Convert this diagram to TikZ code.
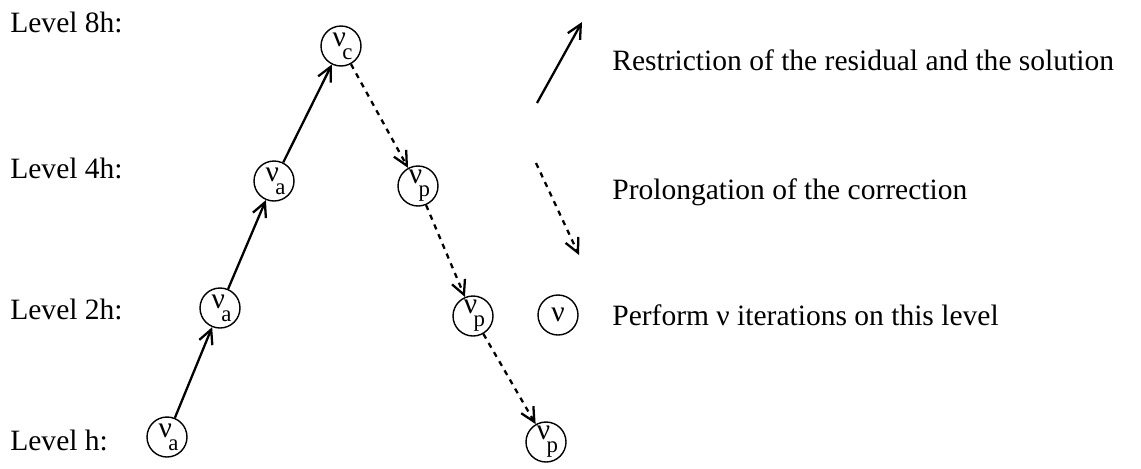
\documentclass[tikz,border=0pt]{standalone}
\usepackage{fontspec}
\setmainfont{Liberation Serif}
\usetikzlibrary{arrows.meta}
\begin{document}
\begin{tikzpicture}[x=0.02cm,y=-0.02cm,
  every node/.style={font=\fontsize{16.8}{20}\selectfont},
  lvl/.style={circle,draw,line width=0.8pt,inner sep=0pt,minimum size=0.8cm},
  txt/.style={anchor=base west,inner sep=0pt},
  restr/.style={line width=1.3pt,-{Straight Barb[length=8pt,width=8pt,line width=1.3pt]}},
  prol/.style={line width=1.3pt,dash pattern=on 3pt off 3pt,-{Straight Barb[length=8pt,width=8pt,line width=1.3pt]}}]
\useasboundingbox (0,0) rectangle (1141,468);
\newcommand{\nusub}[1]{\hspace{0.1em}ν\hspace{-0.12em}\raisebox{-0.45em}{\fontsize{13}{13}\selectfont #1}}
% level labels
\node[txt] (l8) at (10,32) {Level 8h:};
\node[txt] (l4) at (10,178) {Level 4h:};
\node[txt] (l2) at (10,319) {Level 2h:};
\node[txt] (l1) at (10,450) {Level h:};
% nodes
\node[lvl] (a1) at (167,437) {\nusub{a}};
\node[lvl] (a2) at (220,308) {\nusub{a}};
\node[lvl] (a4) at (274,181) {\nusub{a}};
\node[lvl] (c8) at (341,46) {\nusub{c}};
\node[lvl] (p4) at (418,186) {\nusub{p}};
\node[lvl] (p2) at (473,316) {\nusub{p}};
\node[lvl] (p1) at (546,442) {\nusub{p}};
% connectors
\draw[restr] (a1) -- (a2);
\draw[restr] (a2) -- (a4);
\draw[restr] (a4) -- (c8);
\draw[prol] (c8) -- (p4);
\draw[prol] (p4) -- (p2);
\draw[prol] (p2) -- (p1);
% legend
\coordinate (rs) at (537,103);
\coordinate (re) at (582,22);
\draw[restr] (rs) -- (re);
\coordinate (ps) at (536,163);
\coordinate (pe) at (579,255);
\draw[prol] (ps) -- (pe);
\node[lvl] (leg) at (558,315) {ν};
\node[txt] (t1) at (612,70) {Restriction of the residual and the solution};
\node[txt] (t2) at (612,199) {Prolongation of the correction};
\node[txt] (t3) at (612,325) {Perform ν iterations on this level};
\end{tikzpicture}
\end{document}
